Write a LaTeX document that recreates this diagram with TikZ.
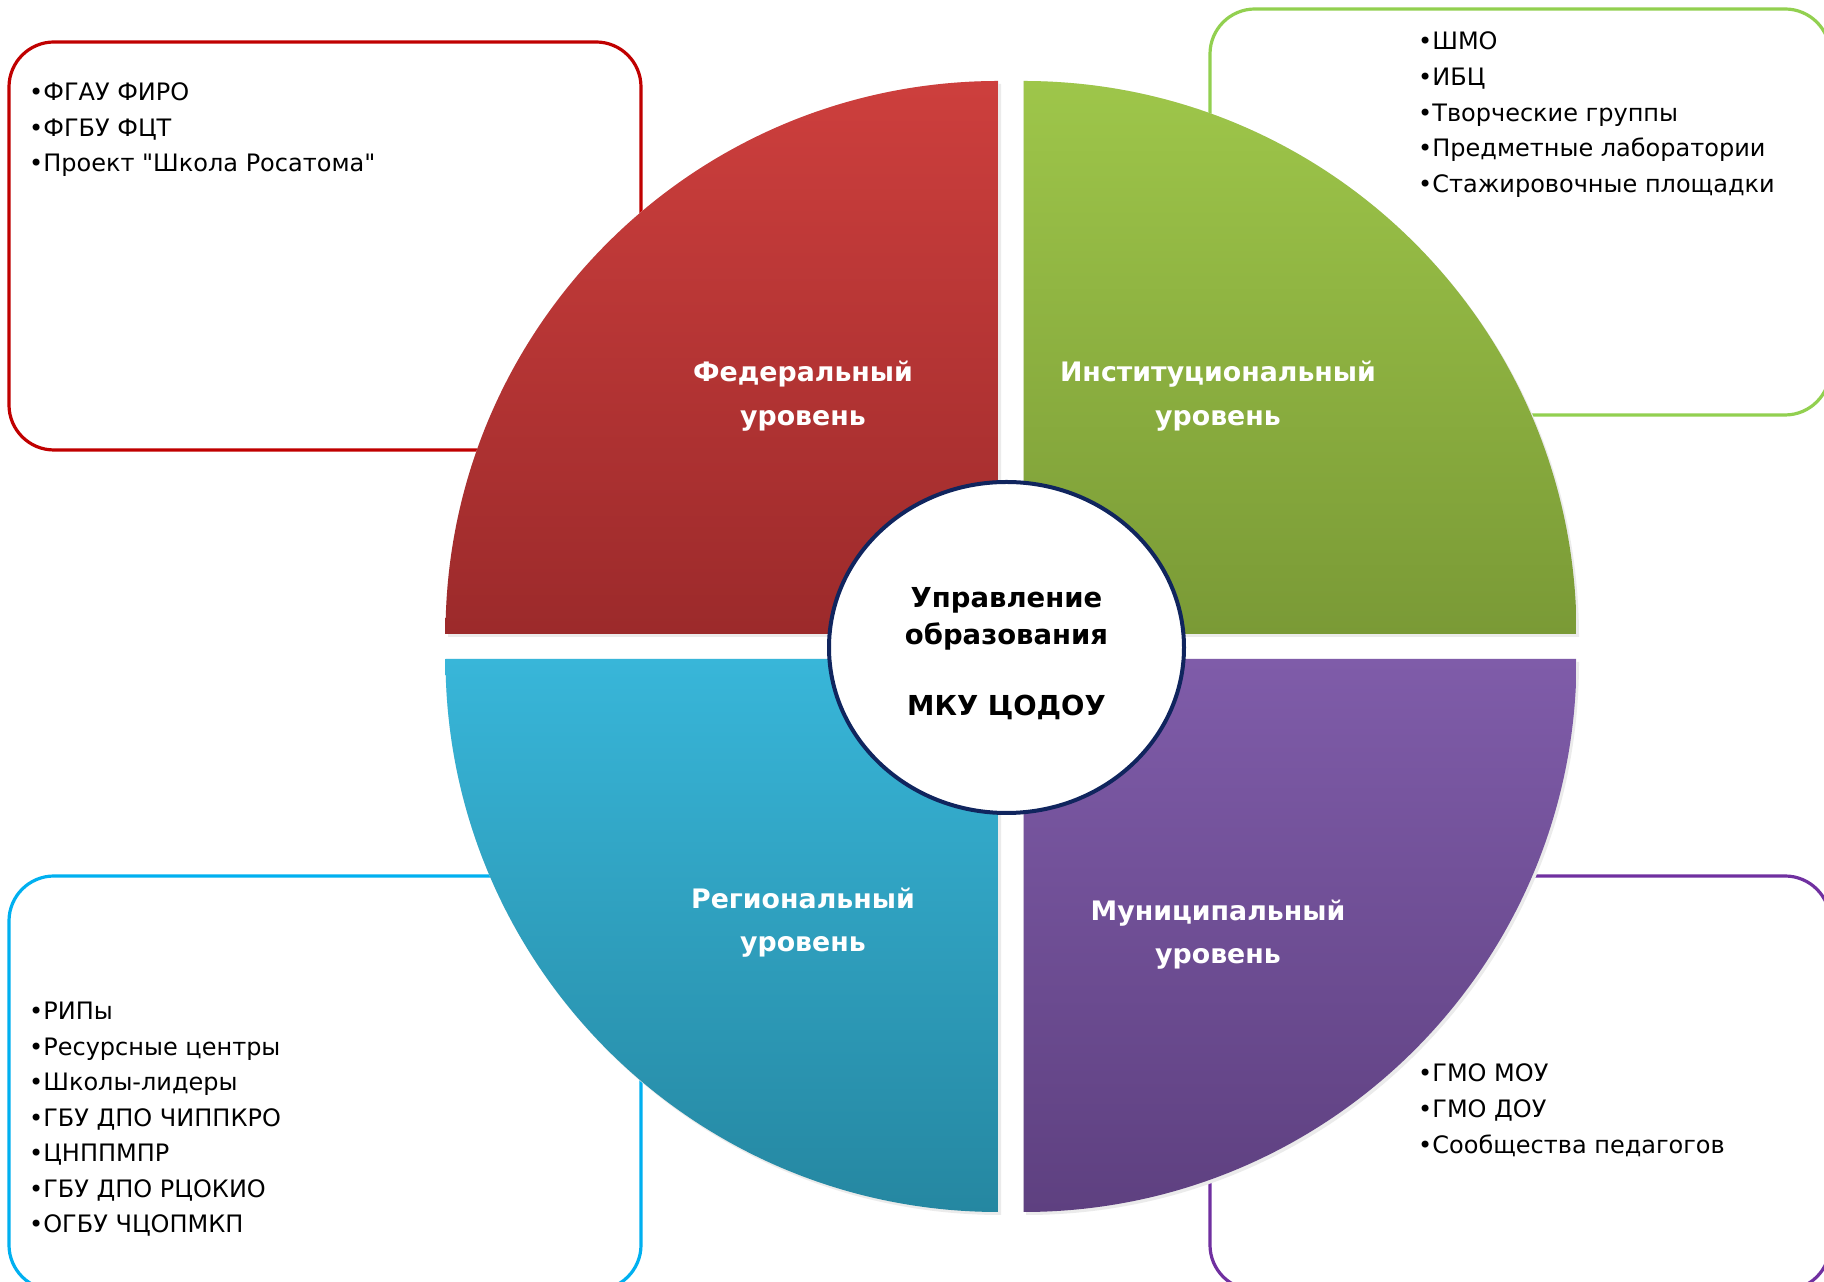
\documentclass[tikz,border=0pt]{standalone}
\usepackage{fontspec}
\setmainfont{DejaVu Sans}
\newfontfamily\listfont{DejaVu Sans}
\usetikzlibrary{shapes.geometric}
\definecolor{fedline}{RGB}{192,0,0}
\definecolor{instline}{RGB}{146,208,80}
\definecolor{regline}{RGB}{0,176,240}
\definecolor{munline}{RGB}{112,48,160}
\definecolor{fedtop}{RGB}{205,63,61}
\definecolor{fedbot}{RGB}{156,42,43}
\definecolor{insttop}{RGB}{158,198,74}
\definecolor{instbot}{RGB}{122,154,54}
\definecolor{regtop}{RGB}{56,182,217}
\definecolor{regbot}{RGB}{37,135,161}
\definecolor{muntop}{RGB}{127,92,169}
\definecolor{munbot}{RGB}{94,64,128}
\definecolor{coreline}{RGB}{16,37,94}
\tikzset{
  listbox/.style={line width=3.2pt, rounded corners=45pt, fill=white, draw=#1},
  shade/.style={fill=black!8},
  leveltext/.style={text=white, align=center, inner sep=0pt,
    font=\fontsize{26.8}{43.6}\selectfont\bfseries},
  listitem/.style={anchor=base west, inner sep=0pt,
    font=\listfont\fontsize{24}{30}\selectfont},
}
\begin{document}
\begin{tikzpicture}[x=1pt,y=1pt]
  \useasboundingbox (0,0) rectangle (1824,1282);
  % boxes behind the wheel
  \path[listbox=fedline] (9,832) rectangle (641,1240);
  \path[listbox=instline] (1210,867) rectangle (1830,1273);
  \path[listbox=regline] (9,-8) rectangle (641,406);
  \path[listbox=munline] (1210,-8) rectangle (1830,406);
  % shadows
  \fill[shade] (1001,645) -- ++(180:553) arc[start angle=180, end angle=90, radius=553] -- cycle;
  \fill[shade] (1026,645) -- ++(90:553) arc[start angle=90, end angle=0, radius=553] -- cycle;
  \fill[shade] (1001,620) -- ++(180:553) arc[start angle=180, end angle=270, radius=553] -- cycle;
  \fill[shade] (1026,620) -- ++(0:553) arc[start angle=0, end angle=-90, radius=553] -- cycle;
  % quarters
  \shade[top color=fedtop, bottom color=fedbot]
    (998.5,648) -- ++(180:553) arc[start angle=180, end angle=90, radius=553] -- cycle;
  \shade[top color=insttop, bottom color=instbot]
    (1023.5,648) -- ++(90:553) arc[start angle=90, end angle=0, radius=553] -- cycle;
  \shade[top color=regtop, bottom color=regbot]
    (998.5,623) -- ++(180:553) arc[start angle=180, end angle=270, radius=553] -- cycle;
  \shade[top color=muntop, bottom color=munbot]
    (1023.5,623) -- ++(0:553) arc[start angle=0, end angle=-90, radius=553] -- cycle;
  \node[leveltext] (fed) at (803,886) {Федеральный\\уровень};
  \node[leveltext] (inst) at (1218,886) {Институциональный\\уровень};
  \node[leveltext] (reg) at (803,359.5) {Региональный\\уровень};
  \node[leveltext] (mun) at (1218,347.5) {Муниципальный\\уровень};
  % centre
  \node[ellipse, draw=coreline, line width=4pt, fill=white,
    minimum width=355pt, minimum height=331pt] (core) at (1006.5,634.5) {};
  \node[align=center, font=\fontsize{27.5}{37}\selectfont\bfseries]
    (coretext) at ([yshift=-6pt]core.center)
    {Управление\\образования\\[34pt]МКУ ЦОДОУ};
  % lists
  \foreach \t [count=\i from 0] in {ФГАУ ФИРО, ФГБУ ФЦТ, Проект "Школа Росатома"}
    \node[listitem] (fed-\i) at (29,1181-35.5*\i) {•\t};
  \foreach \t [count=\i from 0] in {ШМО, ИБЦ, Творческие группы,
      Предметные лаборатории, Стажировочные площадки}
    \node[listitem] (inst-\i) at (1418,1232-35.6*\i) {•\t};
  \foreach \t [count=\i from 0] in {РИПы, Ресурсные центры, Школы-лидеры,
      ГБУ ДПО ЧИППКРО, ЦНППМПР, ГБУ ДПО РЦОКИО, ОГБУ ЧЦОПМКП}
    \node[listitem] (reg-\i) at (29,262-35.5*\i) {•\t};
  \foreach \t [count=\i from 0] in {ГМО МОУ, ГМО ДОУ, Сообщества педагогов}
    \node[listitem] (mun-\i) at (1418,200-35.8*\i) {•\t};
\end{tikzpicture}
\end{document}
